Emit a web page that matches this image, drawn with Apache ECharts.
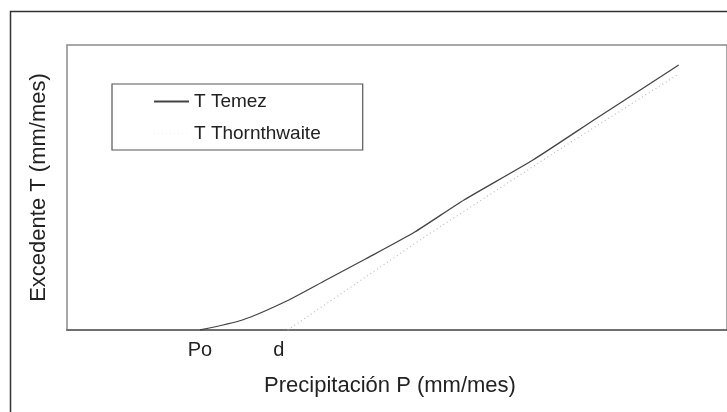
<!DOCTYPE html>
<html>
<head>
<meta charset="utf-8">
<script src="https://cdn.jsdelivr.net/npm/echarts@6/dist/echarts.min.js"></script>
<style>html,body{margin:0;padding:0;background:#fff}#c{width:727px;height:412px}</style>
</head>
<body>
<div id="c"></div>
<script>
// Precipitation P (arbitrary mm/mes units) and surplus T
var temezP = [135, 178, 223, 263, 303, 353, 403, 473, 538, 621];
var temezT = [0, 10, 29, 50, 71, 98, 130, 170, 212, 265];
var thornP = [224, 369, 499, 621];
var thornT = [0, 97, 180, 256];
var tickValues = [135, 215];
var tickLabels = ['Po', 'd'];
var seriesNames = ['T Temez', 'T Thornthwaite'];

function pairs(xs, ys) { return xs.map(function (x, i) { return [x, ys[i]]; }); }

var chart = echarts.init(document.getElementById('c'), null, { renderer: 'canvas' });
var FONT = 'Liberation Sans, Arial, sans-serif';
chart.setOption({
  backgroundColor: '#fff',
  animation: false,
  textStyle: { fontFamily: FONT },
  graphic: [{
    type: 'rect', left: 8, top: 9,
    shape: { x: 0, y: 0, width: 760, height: 440 },
    style: { fill: 'none', stroke: '#333', lineWidth: 1.5 },
    silent: true
  }],
  grid: { left: 67, right: -10, top: 45, bottom: 82, show: true, borderColor: '#8a8a8a', borderWidth: 1.5 },
  legend: {
    orient: 'vertical', left: 112, top: 84,
    padding: [8, 42, 7, 41],
    borderColor: '#555', borderWidth: 1.2,
    itemWidth: 35, itemHeight: 14, itemGap: 13, itemTextGap: 4,
    itemStyle: { opacity: 0 },
    textStyle: { fontSize: 19, color: '#222', fontFamily: FONT },
    data: [
      { name: seriesNames[0] },
      { name: seriesNames[1], lineStyle: { opacity: 0.15 } }
    ]
  },
  xAxis: {
    type: 'value', min: 0, max: 670,
    name: 'Precipitación P (mm/mes)', nameLocation: 'middle', nameGap: 45,
    nameTextStyle: { fontSize: 22, color: '#222', padding: [0, 14, 0, 0] },
    axisLine: { show: true, lineStyle: { color: '#6f6f6f', width: 2 } },
    axisTick: { show: false },
    splitLine: { show: false },
    axisLabel: {
      customValues: tickValues, margin: 10, fontSize: 20, color: '#222',
      formatter: function (v) { var i = tickValues.indexOf(v); return i >= 0 ? tickLabels[i] : ''; }
    }
  },
  yAxis: {
    type: 'value', min: 0, max: 285,
    name: 'Excedente T (mm/mes)', nameLocation: 'middle', nameGap: 17,
    nameTextStyle: { fontSize: 22, color: '#222' },
    axisLine: { show: false }, axisTick: { show: false }, axisLabel: { show: false },
    splitLine: { show: false }
  },
  series: [{
    name: seriesNames[0], type: 'line', symbol: 'none', smooth: 0.2,
    data: pairs(temezP, temezT),
    lineStyle: { color: '#444', width: 1.3 }, itemStyle: { color: '#444' }
  }, {
    name: seriesNames[1], type: 'line', symbol: 'none',
    data: pairs(thornP, thornT),
    lineStyle: { color: '#bdbdbd', width: 1.2, type: [1, 3] }, itemStyle: { color: '#e8e8e8' }
  }]
});
</script>
</body>
</html>
